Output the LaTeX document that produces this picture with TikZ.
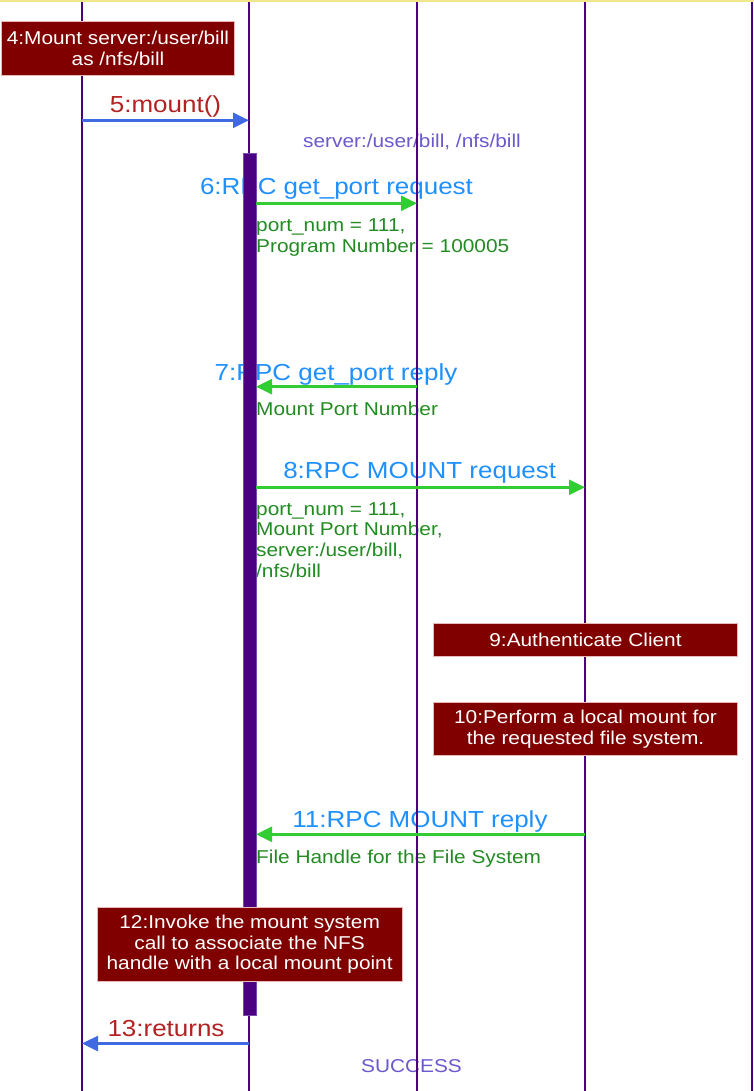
\documentclass[tikz,border=0pt]{standalone}
\usepackage{fontspec}
\setmainfont{Liberation Sans}[FakeStretch=1.12]
\usetikzlibrary{arrows.meta}
\definecolor{khakiY}{HTML}{F0E68C}
\definecolor{lifeC}{HTML}{4B0082}
\definecolor{barEdge}{HTML}{7A4AB0}
\definecolor{dodgerC}{HTML}{1E90FF}
\definecolor{forestC}{HTML}{228B22}
\definecolor{slateC}{HTML}{6A5ACD}
\definecolor{fireC}{HTML}{B22222}
\definecolor{royalC}{HTML}{4169E1}
\definecolor{limeC}{HTML}{32CD32}
\definecolor{maroonC}{HTML}{800000}
\definecolor{boxEdge}{HTML}{E8B8B8}
\begin{document}
\begin{tikzpicture}[x=1pt,y=-1pt,
  smallfont/.style={font=\fontsize{18.6}{20.8}\selectfont},
  bigfont/.style={font=\fontsize{23.2}{26}\selectfont},
  bluelbl/.style={bigfont, text=dodgerC, inner sep=0pt, anchor=base},
  redlbl/.style={bigfont, text=fireC, inner sep=0pt, anchor=base},
  paramlbl/.style={smallfont, text=slateC, inner sep=0pt, anchor=base},
  notelbl/.style={smallfont, text=forestC, inner sep=0pt, anchor=north west, align=left},
  lifeline/.style={draw=lifeC, line width=2.2pt},
  actbar/.style={fill=lifeC, draw=barEdge, line width=0.6pt, inner sep=0pt},
  callarrow/.style={draw=royalC, line width=2.5pt, -{Triangle[length=16pt,width=15pt]}},
  rpcarrow/.style={draw=limeC, line width=2.5pt, -{Triangle[length=16pt,width=15pt]}},
  redbox/.style={fill=maroonC, draw=boxEdge, line width=0.8pt, text=white,
    align=center, inner sep=0pt, font=\fontsize{18.6}{20.5}\selectfont}
]
\useasboundingbox (0,0) rectangle (754,1091);
\fill[white] (0,0) rectangle (754,1091);
\fill[khakiY] (0,0) rectangle (754,2.2);

% texts
\node[redlbl] (l5) at (165.5,113) {5:mount()};
\node[paramlbl] (srv) at (412,148) {server:/user/bill, /nfs/bill};
\node[bluelbl] (l6) at (336.5,195) {6:RPC get\_port request};
\node[notelbl] (n6) at (256,217) {\strut port\_num = 111,\\Program Number = 100005};
\node[bluelbl] (l7) at (336,380) {7:RPC get\_port reply};
\node[notelbl] (n7) at (256,400.4) {\strut Mount Port Number};
\node[bluelbl] (l8) at (419.7,478) {8:RPC MOUNT request};
\node[notelbl] (n8) at (256,500.4) {\strut port\_num = 111,\\Mount Port Number,\\server:/user/bill,\\/nfs/bill};
\node[bluelbl] (l11) at (420,827) {11:RPC MOUNT reply};
\node[notelbl] (n11) at (256,848.4) {\strut File Handle for the File System};
\node[redlbl] (l13) at (166,1036.7) {13:returns};
\node[paramlbl] (succ) at (411.5,1072) {SUCCESS};

% lifelines
\foreach \i/\x in {1/82,2/249,3/417,4/585,5/752}{
  \coordinate (L\i t) at (\x,2.2);
  \coordinate (L\i b) at (\x,1091);
  \draw[lifeline] (L\i t) -- (L\i b);
}

% activation bar
\node[actbar, minimum width=12.5pt, minimum height=862.3pt] (act) at (249.75,584.45) {};

% message end points
\coordinate (m5s) at (82,120.3);   \coordinate (m5e) at (249,120.3);
\coordinate (m6s) at (256,203.3);  \coordinate (m6e) at (417,203.3);
\coordinate (m7s) at (417,386.7);  \coordinate (m7e) at (256,386.7);
\coordinate (m8s) at (256,487.3);  \coordinate (m8e) at (585,487.3);
\coordinate (m11s) at (585,834.3); \coordinate (m11e) at (256,834.3);
\coordinate (m13s) at (249,1043.5); \coordinate (m13e) at (82,1043.5);

\draw[callarrow] (m5s) -- (m5e);
\draw[rpcarrow] (m6s) -- (m6e);
\draw[rpcarrow] (m7s) -- (m7e);
\draw[rpcarrow] (m8s) -- (m8e);
\draw[rpcarrow] (m11s) -- (m11e);
\draw[callarrow] (m13s) -- (m13e);

% boxes
\node[redbox, minimum width=232.6pt, minimum height=53.3pt] (b4) at (118,48.35)
  {4:Mount server:/user/bill\\as /nfs/bill};
\node[redbox, minimum width=304.4pt, minimum height=32.7pt] (b9) at (585.5,639.65)
  {9:Authenticate Client};
\node[redbox, minimum width=304.4pt, minimum height=53.4pt] (b10) at (585.5,729)
  {10:Perform a local mount for\\the requested file system.};
\node[redbox, minimum width=304.7pt, minimum height=74.7pt] (b12) at (249.65,944.35)
  {12:Invoke the mount system\\call to associate the NFS\\handle with a local mount point};
\end{tikzpicture}
\end{document}
